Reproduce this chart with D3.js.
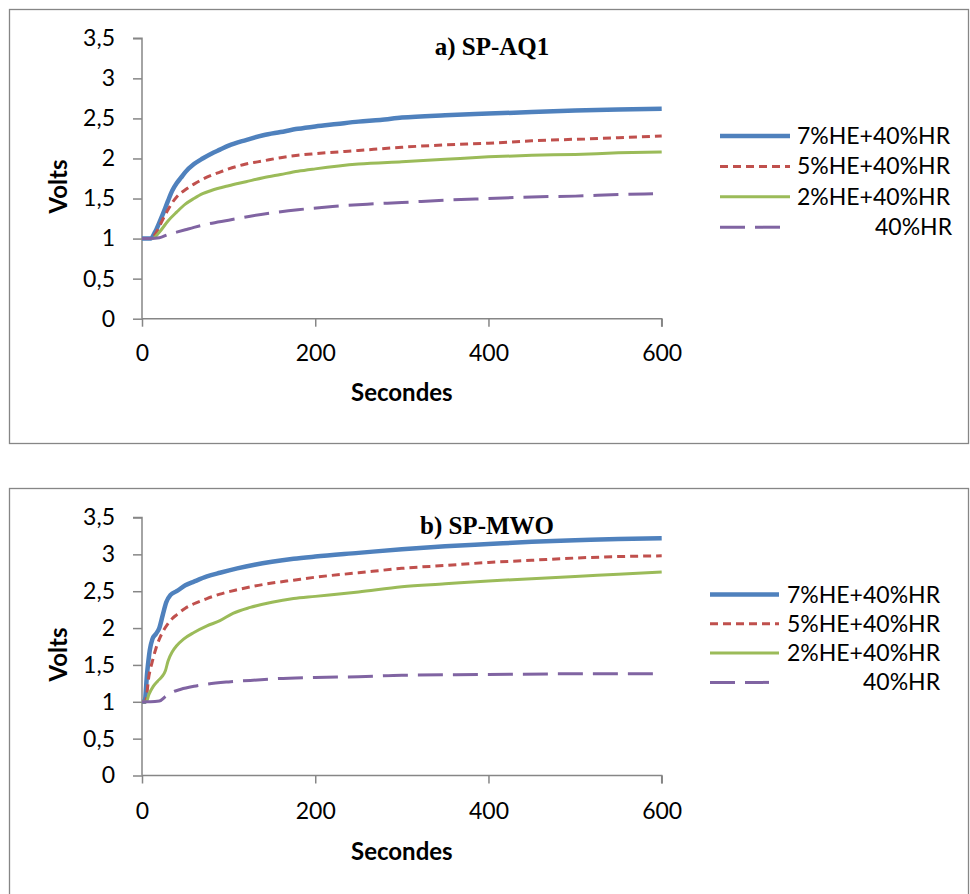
<!DOCTYPE html>
<html><head><meta charset="utf-8">
<script src="https://cdn.jsdelivr.net/npm/d3@7"></script>
<style>body{margin:0;background:#fff}svg{display:block}</style>
</head><body>
<svg id="c" width="970" height="894"></svg>
<script>
// ---- data ----
const seriesNames = ["7%HE+40%HR", "5%HE+40%HR", "2%HE+40%HR", "40%HR"];
const xTicks = [0, 200, 400, 600];
const yTicks = [0, 0.5, 1, 1.5, 2, 2.5, 3, 3.5];
const yTickLabels = ["0", "0,5", "1", "1,5", "2", "2,5", "3", "3,5"];

// chart a) SP-AQ1  [seconds, volts]
const aq1_7HE = [[0,1.00],[10,1.00],[15,1.08],[20,1.20],[25,1.33],[30,1.47],[35,1.60],[40,1.69],[45,1.76],[50,1.83],[60,1.93],[70,2.00],[80,2.06],[90,2.11],[100,2.16],[120,2.23],[140,2.29],[160,2.33],[180,2.37],[200,2.40],[225,2.43],[250,2.46],[275,2.48],[300,2.51],[350,2.54],[400,2.56],[450,2.58],[500,2.60],[550,2.61],[600,2.62]];
const aq1_5HE = [[0,1.00],[10,1.00],[15,1.05],[20,1.15],[25,1.26],[30,1.36],[35,1.45],[40,1.52],[50,1.61],[60,1.68],[70,1.74],[80,1.79],[90,1.83],[100,1.87],[120,1.93],[140,1.97],[160,2.01],[180,2.04],[200,2.06],[250,2.10],[300,2.14],[350,2.17],[400,2.19],[450,2.22],[500,2.24],[550,2.26],[600,2.28]];
const aq1_2HE = [[0,1.00],[12,1.00],[20,1.08],[30,1.22],[40,1.33],[50,1.43],[60,1.50],[70,1.56],[80,1.60],[100,1.66],[120,1.71],[140,1.76],[160,1.80],[180,1.84],[200,1.87],[250,1.93],[300,1.96],[350,1.99],[400,2.02],[450,2.04],[500,2.05],[550,2.07],[600,2.08]];
const aq1_HR  = [[0,1.00],[10,1.00],[20,1.01],[30,1.05],[40,1.08],[50,1.11],[60,1.14],[75,1.18],[100,1.23],[125,1.28],[150,1.32],[180,1.36],[220,1.40],[260,1.43],[300,1.45],[350,1.48],[400,1.50],[450,1.52],[500,1.53],[550,1.55],[590,1.56]];

// chart b) SP-MWO
const mwo_7HE = [[0,1.00],[3,1.00],[6,1.40],[9,1.70],[12,1.85],[16,1.92],[20,2.00],[24,2.18],[28,2.35],[33,2.45],[40,2.50],[50,2.58],[60,2.63],[75,2.70],[90,2.75],[110,2.81],[130,2.86],[150,2.90],[175,2.94],[200,2.97],[250,3.02],[300,3.07],[350,3.11],[400,3.14],[450,3.17],[500,3.19],[550,3.21],[600,3.22]];
const mwo_5HE = [[0,1.00],[4,1.00],[8,1.35],[12,1.55],[16,1.72],[20,1.85],[25,1.97],[30,2.06],[35,2.13],[40,2.18],[50,2.27],[60,2.33],[75,2.40],[90,2.46],[110,2.52],[130,2.57],[150,2.61],[175,2.65],[200,2.69],[250,2.75],[300,2.81],[350,2.85],[400,2.89],[450,2.92],[500,2.95],[550,2.97],[600,2.98]];
const mwo_2HE = [[0,1.00],[5,1.00],[8,1.10],[13,1.21],[18,1.28],[23,1.34],[27,1.42],[30,1.55],[35,1.68],[40,1.76],[48,1.85],[60,1.94],[75,2.03],[90,2.10],[105,2.20],[125,2.28],[150,2.35],[175,2.40],[200,2.43],[250,2.49],[300,2.56],[350,2.60],[400,2.64],[450,2.67],[500,2.70],[550,2.73],[600,2.76]];
const mwo_HR  = [[0,1.00],[10,1.00],[20,1.01],[28,1.08],[35,1.13],[45,1.17],[60,1.21],[75,1.24],[100,1.27],[125,1.29],[150,1.31],[200,1.33],[250,1.34],[300,1.36],[400,1.37],[500,1.38],[600,1.38]];

// ---- styles ----
const colors = ["#4F81BD", "#C0504D", "#9BBB59", "#8064A2"];
const widths = [4.5, 3, 3, 3];
const dashes = [null, "8,5", null, "25,10"];
const legendDashes = [null, "8,5", null, "25,10"];

const svg = d3.select("#c");

const charts = [
  {title: "a) SP-AQ1", data: [aq1_7HE, aq1_5HE, aq1_2HE, aq1_HR],
   frame: [9, 9, 959, 434], plot: {x0: 142, x1: 661.7, yTop: 38.3, yBot: 318.7},
   titleXY: [492, 55], xLabY: 401, yLabX: 67, xPad: 18,
   legend: {x0: 720, x1: 790, hrx1: 781, tx: 797, y0: 136, dy: 30.4, hrTx: 875}},
  {title: "b) SP-MWO", data: [mwo_7HE, mwo_5HE, mwo_2HE, mwo_HR],
   frame: [9, 488, 959, 420], plot: {x0: 142, x1: 661.7, yTop: 517.5, yBot: 775.5},
   titleXY: [487, 534], xLabY: 860, yLabX: 67, xPad: 19.5,
   legend: {x0: 710, x1: 779, hrx1: 769, tx: 787, y0: 594.5, dy: 29.3, hrTx: 863}}
];

charts.forEach(ch => {
  const g = svg.append("g");
  g.append("rect").attr("x", ch.frame[0] + 0.5).attr("y", ch.frame[1] + 0.5)
    .attr("width", ch.frame[2]).attr("height", ch.frame[3])
    .attr("fill", "none").attr("stroke", "#868686").attr("stroke-width", 1.3);

  const x = d3.scaleLinear().domain([0, 600]).range([ch.plot.x0, ch.plot.x1]);
  const y = d3.scaleLinear().domain([0, 3.5]).range([ch.plot.yBot, ch.plot.yTop]);

  const yAxis = d3.axisLeft(y).tickValues(yTicks).tickSize(9).tickPadding(18)
    .tickFormat((d, i) => yTickLabels[i]);
  const ya = g.append("g").attr("transform", `translate(${ch.plot.x0},0)`).call(yAxis);
  const xAxis = d3.axisBottom(x).tickValues(xTicks).tickSize(8).tickPadding(ch.xPad)
    .tickFormat(d3.format("d"));
  const xa = g.append("g").attr("transform", `translate(0,${ch.plot.yBot})`).call(xAxis);
  [ya, xa].forEach(a => {
    a.select(".domain").attr("stroke", "#868686").attr("stroke-width", 1.5);
    a.selectAll(".tick line").attr("stroke", "#868686").attr("stroke-width", 1.5);
    a.selectAll(".tick text").attr("fill", "#000").style("font-family", "Lato")
      .style("font-size", "23px");
  });
  // remove the outer tick part of domain path for exact look
  ya.select(".domain").attr("d", `M-9,${ch.plot.yTop}H0V${ch.plot.yBot}`);
  xa.select(".domain").attr("d", `M${ch.plot.x0},0H${ch.plot.x1}V8`);

  const line = d3.line().x(d => x(d[0])).y(d => y(d[1])).curve(d3.curveMonotoneX);
  ch.data.forEach((s, i) => {
    g.append("path").datum(s).attr("d", line).attr("fill", "none")
      .attr("stroke", colors[i]).attr("stroke-width", widths[i])
      .attr("stroke-dasharray", dashes[i]).attr("stroke-linejoin", "round");
  });

  g.append("text").attr("x", ch.titleXY[0]).attr("y", ch.titleXY[1])
    .attr("text-anchor", "middle").style("font-family", "Liberation Serif")
    .style("font-weight", "bold").style("font-size", "25px").text(ch.title);

  g.append("text").attr("x", (ch.plot.x0 + ch.plot.x1) / 2).attr("y", ch.xLabY)
    .attr("text-anchor", "middle").style("font-family", "Lato").style("font-weight", "bold")
    .style("font-size", "24px").text("Secondes");

  g.append("text").attr("transform", `translate(${ch.yLabX},${(ch.plot.yTop + ch.plot.yBot) / 2 + 8}) rotate(-90)`)
    .attr("text-anchor", "middle").style("font-family", "Lato").style("font-weight", "bold")
    .style("font-size", "24px").text("Volts");

  const L = ch.legend;
  seriesNames.forEach((n, i) => {
    const ly = L.y0 + i * L.dy;
    g.append("line").attr("x1", L.x0).attr("x2", i === 3 ? L.hrx1 : L.x1)
      .attr("y1", ly).attr("y2", ly).attr("stroke", colors[i])
      .attr("stroke-width", widths[i]).attr("stroke-dasharray", legendDashes[i]);
    g.append("text").attr("x", i === 3 ? L.hrTx : L.tx).attr("y", ly + 8)
      .style("font-family", "Lato").style("font-size", "23px").text(n);
  });
});
</script>
</body></html>
